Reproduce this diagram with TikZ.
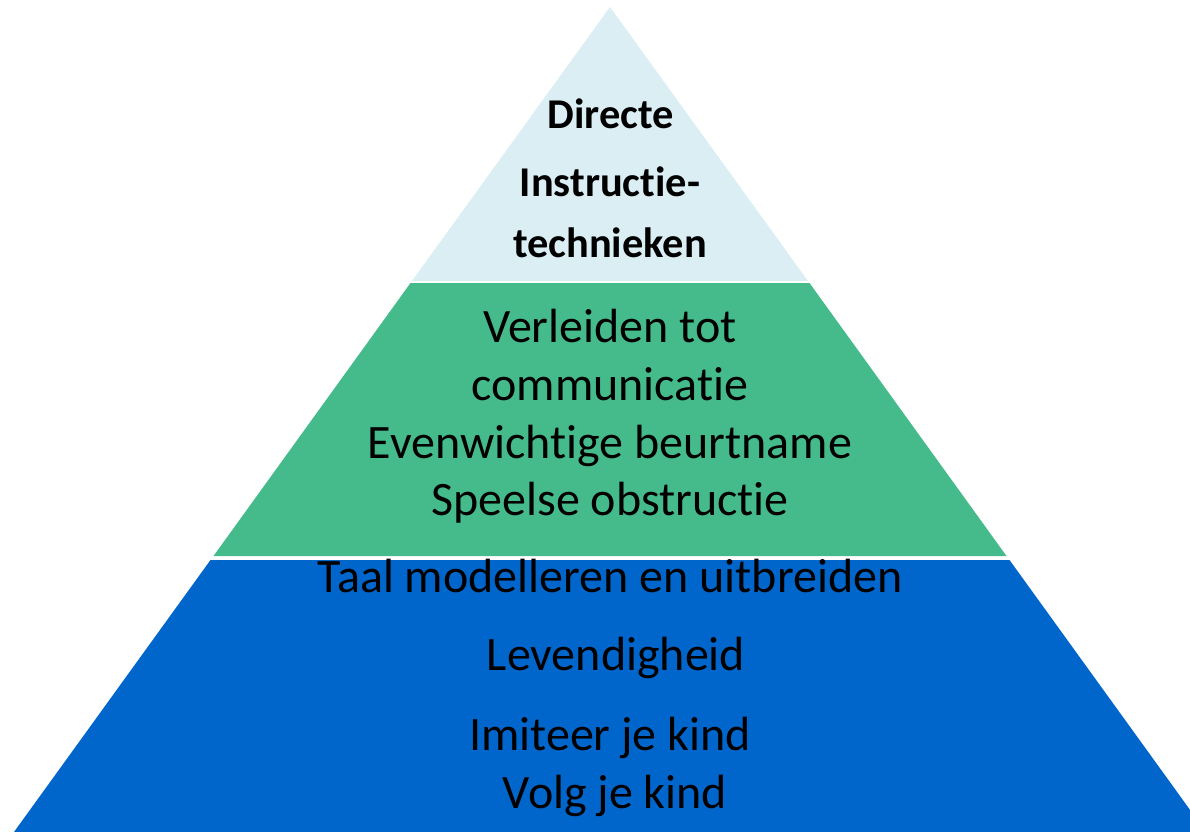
\documentclass[tikz,border=0pt]{standalone}
\usepackage{fontspec}
\setmainfont{Carlito}[Ligatures={NoCommon}]
\definecolor{tierTop}{HTML}{DAEEF3}
\definecolor{tierMid}{HTML}{45BB8C}
\definecolor{tierBot}{HTML}{0066CC}
\begin{document}
\begin{tikzpicture}[x=0.75pt,y=-0.75pt,
  lbl/.style={anchor=base, inner sep=0pt, text=black, font=\fontsize{36}{43}\selectfont},
  toplbl/.style={anchor=base, inner sep=0pt, text=black, font=\fontsize{31.8}{38}\selectfont\bfseries}]
\useasboundingbox (0,0) rectangle (1190,832);
\clip (0,0) rectangle (1190,832);
% tiers
\fill[tierTop] (610,7) -- (808,281) -- (412,281) -- cycle;
\fill[tierMid] (410.5,283) -- (809.5,283) -- (1006.5,556) -- (213.5,556) -- cycle;
\fill[tierBot] (210.5,560) -- (1009.5,560) -- (1206,832) -- (14,832) -- cycle;
% top labels
\node[toplbl] (t1) at (611,128) {Directe};
\node[toplbl] (t2) at (610,196) {Instructie-};
\node[toplbl] (t3) at (610,257) {technieken};
% middle labels
\node[lbl] (m1) at (610,342) {Verleiden tot};
\node[lbl] (m2) at (610,400) {communicatie};
\node[lbl] (m3) at (610,458) {Evenwichtige beurtname};
\node[lbl] (m4) at (610,515) {Speelse obstructie};
% bottom labels
\node[lbl] (b1) at (610,592) {Taal modelleren en uitbreiden};
\node[lbl] (b2) at (616,670) {Levendigheid};
\node[lbl] (b3) at (610,750) {Imiteer je kind};
\node[lbl] (b4) at (615,808) {Volg je kind};
\end{tikzpicture}
\end{document}
